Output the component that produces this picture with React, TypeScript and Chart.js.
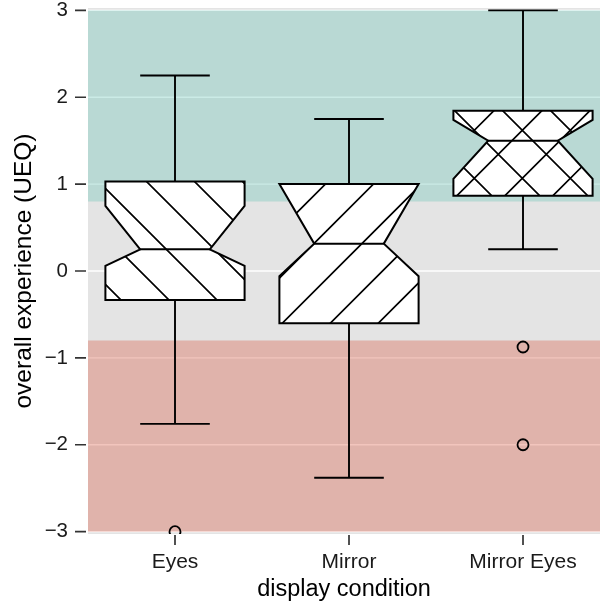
import React, { useEffect, useRef } from "react";
import { Chart, registerables } from "chart.js";

Chart.register(...registerables);

// ---- data ----
const categories = ["Eyes", "Mirror", "Mirror Eyes"];
const whiskerHigh = [2.25, 1.75, 3.0];
const upperQuartile = [1.03, 1.0, 1.845];
const notchHigh = [0.75, 1.0, 1.74];
const medians = [0.25, 0.315, 1.5];
const notchLow = [0.06, -0.06, 1.06];
const lowerQuartile = [-0.335, -0.6, 0.867];
const whiskerLow = [-1.76, -2.38, 0.25];
const outlierCategory = [0, 2, 2];
const outlierValues = [-3, -0.875, -2];
const yTickValues = [-3, -2, -1, 0, 1, 2, 3];
const bandLow = [0.8, -3];
const bandHigh = [3, -0.8];

// ---- styles ----
const bandColors = ["rgba(105,199,182,0.35)", "rgba(217,88,65,0.35)"];
const PANEL_BG = "#e4e4e4";
const BOX_HALF = 0.4; // in category units
const HATCH_STEP = 48;
// phases (px) for "\" lines (x - y) and "/" lines (x + y)
const hatchBack: (number | null)[] = [13, null, 8];
const hatchFwd: (number | null)[] = [null, 29.5, 28.6];
const FONT = '"Liberation Sans", Arial, Helvetica, sans-serif';

function mod(a: number, m: number) {
  return ((a % m) + m) % m;
}

function drawBoxes(chart: any) {
  const ctx: CanvasRenderingContext2D = chart.ctx;
  const xs = chart.scales.x;
  const ys = chart.scales.y;
  const area = chart.chartArea;
  ctx.save();
  ctx.beginPath();
  ctx.rect(area.left, area.top, area.right - area.left, area.bottom - area.top);
  ctx.clip();
  ctx.lineCap = "butt";
  ctx.lineJoin = "miter";
  for (let i = 0; i < categories.length; i++) {
    const c = xs.getPixelForValue(i);
    const hw = xs.getPixelForValue(i + BOX_HALF) - c;
    const nw = hw / 2;
    const yWH = ys.getPixelForValue(whiskerHigh[i]);
    const yQ3 = ys.getPixelForValue(upperQuartile[i]);
    const yNH = ys.getPixelForValue(notchHigh[i]);
    const yMed = ys.getPixelForValue(medians[i]);
    const yNL = ys.getPixelForValue(notchLow[i]);
    const yQ1 = ys.getPixelForValue(lowerQuartile[i]);
    const yWL = ys.getPixelForValue(whiskerLow[i]);

    // whiskers
    ctx.strokeStyle = "#000";
    ctx.lineWidth = 1.9;
    ctx.beginPath();
    ctx.moveTo(c, yQ3);
    ctx.lineTo(c, yWH);
    ctx.moveTo(c - nw, yWH);
    ctx.lineTo(c + nw, yWH);
    ctx.moveTo(c, yQ1);
    ctx.lineTo(c, yWL);
    ctx.moveTo(c - nw, yWL);
    ctx.lineTo(c + nw, yWL);
    ctx.stroke();

    // notched box polygon
    const path = new Path2D();
    path.moveTo(c - hw, yQ3);
    path.lineTo(c - hw, yNH);
    path.lineTo(c - nw, yMed);
    path.lineTo(c - hw, yNL);
    path.lineTo(c - hw, yQ1);
    path.lineTo(c + hw, yQ1);
    path.lineTo(c + hw, yNL);
    path.lineTo(c + nw, yMed);
    path.lineTo(c + hw, yNH);
    path.lineTo(c + hw, yQ3);
    path.closePath();

    ctx.fillStyle = "#fff";
    ctx.fill(path);

    // hatch
    ctx.save();
    ctx.clip(path);
    ctx.lineWidth = 1.7;
    ctx.strokeStyle = "#000";
    const xmin = c - hw, xmax = c + hw, ymin = yQ3, ymax = yQ1;
    ctx.beginPath();
    const pb = hatchBack[i];
    if (pb !== null) {
      const k0 = xmin - ymax;
      let k = k0 - mod(k0 - pb, HATCH_STEP);
      for (; k <= xmax - ymin + HATCH_STEP; k += HATCH_STEP) {
        ctx.moveTo(k + ymin - 5, ymin - 5);
        ctx.lineTo(k + ymax + 5, ymax + 5);
      }
    }
    const pf = hatchFwd[i];
    if (pf !== null) {
      const k0 = xmin + ymin;
      let k = k0 - mod(k0 - pf, HATCH_STEP);
      for (; k <= xmax + ymax + HATCH_STEP; k += HATCH_STEP) {
        ctx.moveTo(k - ymin + 5, ymin - 5);
        ctx.lineTo(k - ymax - 5, ymax + 5);
      }
    }
    ctx.stroke();
    ctx.restore();

    // outline + median
    ctx.lineWidth = 2;
    ctx.strokeStyle = "#000";
    ctx.stroke(path);
    ctx.beginPath();
    ctx.moveTo(c - nw, yMed);
    ctx.lineTo(c + nw, yMed);
    ctx.stroke();
  }
  ctx.restore();
}

const panelPlugin = {
  id: "panelPlugin",
  beforeDraw(chart: any) {
    const ctx: CanvasRenderingContext2D = chart.ctx;
    const area = chart.chartArea;
    const ys = chart.scales.y;
    ctx.save();
    ctx.fillStyle = PANEL_BG;
    ctx.fillRect(area.left, area.top, area.right - area.left, area.bottom - area.top);
    ctx.beginPath();
    ctx.rect(area.left, area.top, area.right - area.left, area.bottom - area.top);
    ctx.clip();
    ctx.strokeStyle = "#ffffff";
    ctx.lineWidth = 1.3;
    for (const v of yTickValues) {
      const y = ys.getPixelForValue(v);
      ctx.beginPath();
      ctx.moveTo(area.left, y);
      ctx.lineTo(area.right, y);
      ctx.stroke();
    }
    for (let b = 0; b < bandLow.length; b++) {
      const yTop = ys.getPixelForValue(bandHigh[b]);
      const yBot = ys.getPixelForValue(bandLow[b]);
      ctx.fillStyle = bandColors[b];
      ctx.fillRect(area.left, yTop, area.right - area.left, yBot - yTop);
    }
    ctx.restore();
  },
  beforeDatasetsDraw(chart: any) {
    drawBoxes(chart);
  },
  afterDraw(chart: any) {
    const ctx: CanvasRenderingContext2D = chart.ctx;
    const area = chart.chartArea;
    const xs = chart.scales.x;
    const ys = chart.scales.y;
    ctx.save();
    ctx.strokeStyle = "#333";
    ctx.lineWidth = 1.7;
    ctx.beginPath();
    for (const v of yTickValues) {
      const y = ys.getPixelForValue(v);
      ctx.moveTo(area.left - 13, y);
      ctx.lineTo(area.left - 2, y);
    }
    for (let i = 0; i < categories.length; i++) {
      const x = xs.getPixelForValue(i);
      ctx.moveTo(x, area.bottom + 1);
      ctx.lineTo(x, area.bottom + 11);
    }
    ctx.stroke();
    ctx.restore();
  },
};

export default function App() {
  const canvasRef = useRef<HTMLCanvasElement | null>(null);

  useEffect(() => {
    if (!canvasRef.current) return;
    const outliers = outlierValues.map((v, i) => ({ x: outlierCategory[i], y: v }));
    const chart = new Chart(canvasRef.current, {
      type: "scatter",
      data: {
        datasets: [
          {
            data: outliers,
            pointRadius: 5.5,
            pointHoverRadius: 5.5,
            pointBorderWidth: 1.8,
            borderColor: "#000",
            backgroundColor: "rgba(0,0,0,0)",
            clip: 0,
          } as any,
        ],
      },
      options: {
        animation: false,
        responsive: true,
        maintainAspectRatio: false,
        devicePixelRatio: 1,
        events: [],
        layout: { autoPadding: false, padding: { top: 8, left: 0, right: 0, bottom: 0 } },
        plugins: {
          legend: { display: false },
          tooltip: { enabled: false },
        },
        scales: {
          x: {
            type: "linear",
            min: -0.5,
            max: 2.4425,
            grid: { display: false, drawTicks: false },
            border: { display: false },
            afterBuildTicks: (s: any) => {
              s.ticks = categories.map((_, i) => ({ value: i }));
            },
            afterFit: (s: any) => {
              s.height = 73;
              s.paddingLeft = 0;
              s.paddingRight = 0;
            },
            ticks: {
              autoSkip: false,
              maxRotation: 0,
              padding: 16,
              color: "#1a1a1a",
              font: { family: FONT, size: 21 },
              callback: (v: any) => categories[Number(v)] ?? "",
            },
            title: {
              display: true,
              text: "display condition",
              color: "#000",
              font: { family: FONT, size: 23.5 },
              padding: { top: 0, bottom: 3 },
            },
          },
          y: {
            type: "linear",
            min: -3.027,
            max: 3.027,
            grid: { display: false, drawTicks: false },
            border: { display: false },
            afterBuildTicks: (s: any) => {
              s.ticks = yTickValues.map((v) => ({ value: v }));
            },
            afterFit: (s: any) => {
              s.width = 88;
              s.paddingTop = 0;
              s.paddingBottom = 0;
            },
            ticks: {
              padding: 20,
              color: "#1a1a1a",
              font: { family: FONT, size: 20.5 },
              callback: (v: any) => {
                const n = Number(v);
                return n < 0 ? "\u2212" + Math.abs(n) : String(n);
              },
            },
            title: {
              display: true,
              text: "overall experience (UEQ)",
              color: "#000",
              font: { family: FONT, size: 24.5 },
              padding: { top: 10, bottom: 0 },
            },
          },
        },
      },
      plugins: [panelPlugin],
    });
    return () => chart.destroy();
  }, []);

  return (
    <div
      style={{
        position: "fixed",
        left: 0,
        top: 0,
        width: 600,
        height: 607,
        background: "#fff",
      }}
    >
      <canvas ref={canvasRef} />
    </div>
  );
}
